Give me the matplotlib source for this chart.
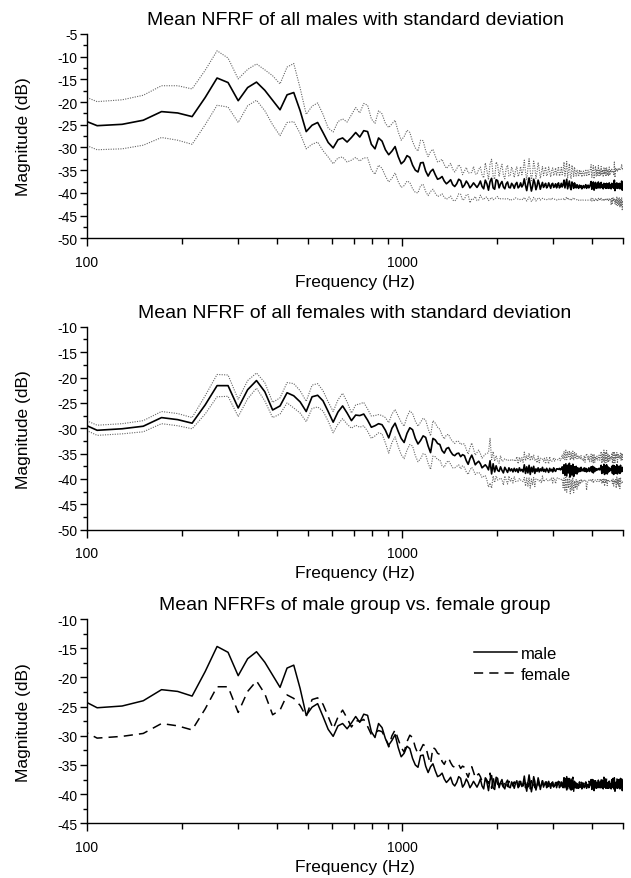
import numpy as np
import matplotlib
matplotlib.use('Agg')
import matplotlib.pyplot as plt
from matplotlib.ticker import MultipleLocator, FixedLocator, FixedFormatter, NullFormatter, LogLocator

plt.rcParams['font.family'] = ['Liberation Sans', 'DejaVu Sans']
plt.rcParams['axes.unicode_minus'] = False

# FFT bins (44.1 kHz, 2048 points), bins 4..233
fft_bins = np.arange(4, 234)
freq = fft_bins * 44100 / 2048

# male group: mean NFRF (dB) and standard deviation (dB)
male_mean = [
    -22.5, -25.2, -24.9, -24.0, -22.1, -22.4, -23.2, -19.0, -14.7, -15.7,
    -19.7, -16.8, -15.6, -17.4, -19.6, -21.7, -18.4, -17.9, -21.9, -26.5,
    -25.1, -24.5, -26.7, -28.9, -30.1, -28.3, -27.9, -28.8, -27.8, -26.7,
    -27.7, -26.3, -26.5, -29.3, -30.3, -27.9, -28.6, -30.5, -31.6, -30.8,
    -29.8, -32.0, -33.6, -33.0, -31.8, -32.2, -33.9, -35.0, -35.4, -33.4,
    -33.3, -35.2, -36.3, -35.3, -34.8, -36.0, -37.0, -36.8, -36.4, -37.4,
    -38.0, -37.6, -37.1, -38.2, -38.6, -38.0, -37.0, -37.3, -38.8, -38.3,
    -37.4, -38.0, -38.9, -38.4, -37.8, -38.3, -38.8, -38.2, -37.4, -38.6,
    -39.1, -37.2, -38.0, -39.4, -37.5, -36.8, -38.9, -39.2, -37.1, -37.3,
    -38.9, -38.0, -37.5, -38.7, -39.1, -38.0, -37.6, -38.8, -38.9, -37.9,
    -38.3, -39.0, -38.1, -37.7, -38.9, -38.6, -37.8, -38.7, -38.2, -36.9,
    -38.4, -39.5, -38.0, -36.7, -38.2, -39.6, -38.6, -37.0, -37.8, -39.3,
    -38.5, -37.2, -38.0, -39.2, -38.4, -37.7, -38.8, -38.3, -37.9, -38.9,
    -38.6, -37.8, -38.4, -39.0, -38.1, -37.9, -38.8, -38.5, -38.0, -38.9,
    -38.3, -37.8, -38.9, -38.6, -37.9, -38.7, -38.2, -37.2, -38.9, -38.0,
    -37.0, -39.1, -38.2, -37.4, -38.8, -39.3, -37.6, -38.1, -39.0, -37.8,
    -38.5, -38.9, -38.2, -38.7, -39.0, -38.3, -38.8, -38.4, -39.1, -38.6,
    -38.4, -38.9, -38.6, -38.2, -39.0, -38.5, -38.3, -38.9, -38.6, -38.2,
    -37.5, -39.2, -38.1, -37.6, -39.4, -38.4, -37.7, -39.0, -38.1, -38.9,
    -37.6, -38.9, -38.0, -38.9, -37.7, -38.8, -38.2, -39.1, -37.9, -38.8,
    -38.0, -39.0, -37.9, -38.9, -38.1, -39.0, -37.8, -38.9, -38.2, -39.1,
    -37.9, -38.8, -38.1, -39.0, -37.2, -39.5, -38.0, -38.9, -37.8, -39.0,
    -38.0, -38.9, -37.9, -39.1, -38.1, -38.8, -37.4, -39.4, -38.2, -38.8,
]
male_std = [
    5.3, 5.3, 5.4, 5.5, 5.7, 6.0, 6.1, 6.0, 6.0, 5.4,
    4.8, 4.0, 4.0, 4.5, 5.4, 5.7, 6.1, 6.4, 5.0, 3.8,
    4.2, 4.3, 4.0, 3.2, 3.5, 4.0, 4.2, 4.4, 5.0, 5.5,
    5.3, 6.0, 5.8, 5.6, 5.6, 6.0, 6.0, 5.8, 6.0, 6.0,
    5.8, 5.5, 5.2, 5.4, 5.6, 5.5, 5.2, 4.9, 4.6, 5.0,
    4.8, 4.5, 4.3, 4.4, 4.4, 4.1, 3.8, 3.8, 3.8, 3.6,
    3.4, 3.5, 3.6, 3.4, 3.2, 3.3, 3.2, 3.0, 2.8, 3.1,
    3.0, 2.4, 3.3, 2.9, 3.6, 2.5, 2.9, 3.4, 3.1, 2.6,
    2.4, 3.8, 2.9, 2.3, 3.9, 4.2, 2.6, 2.2, 3.9, 3.5,
    2.5, 3.3, 3.8, 2.6, 2.2, 3.4, 3.7, 2.5, 2.8, 3.6,
    3.1, 2.4, 3.0, 3.5, 2.5, 2.9, 3.6, 2.7, 3.3, 4.1,
    3.0, 2.3, 3.4, 4.2, 3.1, 2.3, 3.0, 4.0, 3.4, 2.5,
    3.0, 3.9, 3.2, 2.4, 2.9, 3.5, 2.6, 3.1, 3.6, 2.6,
    2.8, 3.5, 3.1, 2.5, 3.0, 3.4, 2.6, 2.9, 3.5, 2.7,
    3.1, 3.6, 2.6, 2.9, 3.5, 2.7, 3.2, 4.0, 2.6, 3.2,
    3.9, 2.4, 3.1, 3.8, 2.7, 2.4, 3.7, 3.1, 2.5, 3.5,
    2.9, 2.6, 3.3, 3.0, 2.6, 3.4, 2.8, 3.2, 2.6, 3.0,
    3.2, 2.7, 3.0, 3.4, 2.6, 3.1, 3.3, 2.7, 3.0, 3.4,
    3.7, 2.6, 3.2, 3.6, 2.5, 3.1, 3.6, 2.7, 3.3, 2.8,
    3.6, 2.7, 3.2, 2.7, 3.5, 2.8, 3.3, 2.6, 3.4, 2.9,
    3.4, 2.6, 3.5, 2.8, 3.2, 2.7, 3.5, 2.8, 3.3, 3.6,
    3.1, 3.5, 3.0, 2.8, 4.0, 2.9, 3.4, 3.7, 3.0, 3.8,
    3.3, 3.9, 3.2, 4.1, 3.4, 4.2, 3.7, 4.5, 3.5, 3.6,
]

# female group: mean NFRF (dB) and standard deviation (dB)
female_mean = [
    -27.7, -30.4, -30.1, -29.6, -27.9, -28.3, -29.0, -25.4, -21.6, -21.6,
    -26.0, -22.4, -20.6, -22.8, -26.4, -25.6, -23.0, -23.6, -24.8, -26.7,
    -23.8, -23.5, -24.6, -26.7, -28.8, -26.8, -25.6, -27.0, -28.5, -27.4,
    -27.5, -27.2, -28.4, -29.8, -29.5, -29.1, -29.3, -30.4, -31.9, -30.0,
    -29.0, -30.6, -32.0, -32.8, -31.0, -29.9, -30.3, -32.0, -33.1, -32.4,
    -31.5, -31.8, -33.5, -34.8, -32.0, -32.3, -33.0, -33.2, -34.4, -34.9,
    -34.0, -33.8, -34.6, -35.2, -35.4, -35.0, -34.9, -35.6, -35.2, -35.4,
    -36.4, -37.1, -36.0, -35.3, -36.2, -37.2, -36.8, -36.5, -37.0, -37.8,
    -37.5, -37.2, -37.6, -38.2, -36.4, -39.0, -37.0, -38.6, -37.4, -38.3,
    -38.5, -37.6, -38.3, -38.8, -37.7, -38.2, -38.7, -37.8, -38.4, -38.0,
    -38.6, -37.9, -38.5, -38.0, -38.7, -37.8, -38.4, -38.1, -38.6, -37.2,
    -38.9, -37.6, -38.8, -37.3, -39.1, -37.7, -38.6, -37.5, -38.9, -38.0,
    -38.5, -37.8, -38.6, -38.0, -38.4, -37.7, -38.5, -38.1, -38.6, -37.9,
    -38.3, -38.7, -37.9, -38.4, -38.1, -38.6, -37.8, -38.3, -38.5, -38.0,
    -38.0, -38.1, -37.9, -38.2, -38.0, -37.6, -38.9, -37.2, -39.3, -37.0,
    -39.4, -37.3, -38.8, -36.9, -39.6, -37.4, -39.2, -37.1, -39.5, -37.6,
    -38.9, -37.5, -39.0, -37.8, -38.6, -37.9, -38.5, -37.7, -38.4, -38.1,
    -38.4, -37.8, -38.5, -37.9, -38.6, -38.1, -38.4, -37.8, -38.5, -38.0,
    -37.6, -38.6, -37.5, -38.8, -37.7, -38.5, -37.9, -38.3, -38.0, -38.2,
    -38.1, -37.9, -38.2, -38.0, -37.3, -38.9, -37.6, -38.7, -37.1, -39.1,
    -37.4, -38.8, -37.2, -39.0, -37.6, -38.6, -37.8, -38.4, -38.0, -38.2,
    -37.5, -38.9, -37.3, -39.1, -37.4, -38.8, -37.6, -38.9, -37.2, -39.0,
    -37.5, -38.7, -37.6, -38.9, -37.3, -38.6, -37.8, -38.5, -37.7, -38.3,
]
female_std = [
    0.9, 1.0, 1.0, 1.1, 1.2, 1.2, 1.1, 1.8, 2.2, 2.1,
    1.7, 1.8, 1.5, 1.8, 1.5, 1.6, 2.0, 2.4, 2.2, 2.0,
    2.3, 2.3, 2.0, 1.9, 2.1, 2.4, 2.5, 2.2, 1.5, 2.0,
    2.3, 2.3, 2.2, 2.2, 2.0, 1.8, 1.8, 2.5, 3.0, 2.8,
    2.7, 3.0, 3.2, 3.2, 3.3, 3.3, 3.2, 3.4, 3.5, 3.6,
    3.5, 3.4, 3.4, 3.3, 3.5, 3.3, 3.2, 3.0, 3.0, 2.8,
    2.7, 2.6, 2.5, 2.6, 2.4, 2.5, 2.3, 2.4, 2.2, 2.3,
    2.2, 2.0, 2.2, 2.4, 2.1, 1.9, 2.0, 2.2, 2.0, 1.9,
    2.0, 2.1, 2.6, 3.4, 4.4, 2.8, 2.4, 2.1, 2.0, 1.9,
    1.6, 2.2, 1.8, 2.4, 1.7, 2.0, 2.3, 1.6, 2.1, 1.9,
    2.2, 1.6, 2.0, 2.4, 1.7, 2.1, 1.8, 2.3, 1.9, 2.5,
    2.5, 2.2, 2.6, 2.4, 2.7, 2.3, 2.5, 2.2, 2.6, 2.0,
    1.7, 2.3, 1.8, 2.1, 2.4, 1.7, 2.0, 2.2, 1.6, 2.1,
    2.0, 1.7, 2.3, 1.9, 1.6, 2.2, 2.0, 1.8, 2.4, 1.9,
    1.8, 1.9, 2.0, 1.8, 2.1, 2.4, 2.8, 2.6, 3.1, 2.7,
    3.2, 2.6, 3.0, 2.5, 3.3, 2.7, 3.1, 2.6, 3.2, 2.8,
    2.9, 2.6, 3.0, 2.5, 2.7, 2.4, 2.5, 2.3, 2.2, 2.1,
    2.0, 2.4, 1.8, 2.3, 3.6, 2.6, 2.1, 2.4, 1.9, 2.2,
    2.5, 1.9, 2.4, 2.0, 2.6, 1.8, 2.3, 2.1, 2.5, 1.9,
    2.2, 2.6, 1.9, 2.4, 2.7, 2.0, 2.5, 2.1, 2.8, 2.3,
    2.7, 2.0, 2.8, 2.3, 2.5, 1.9, 2.6, 2.1, 2.4, 2.2,
    2.6, 2.0, 2.7, 2.3, 2.8, 2.0, 2.5, 2.9, 2.4, 2.1,
    2.5, 2.8, 2.1, 3.0, 2.4, 2.2, 2.9, 2.3, 2.7, 2.4,
]

titles = ['Mean NFRF of all males with standard deviation',
          'Mean NFRF of all females with standard deviation',
          'Mean NFRFs of male group vs. female group']
ylims = [(-50, -5), (-50, -10), (-45, -10)]

male_mean = np.array(male_mean)
male_std = np.array(male_std)
female_mean = np.array(female_mean)
female_std = np.array(female_std)

fig = plt.figure(figsize=(6.31, 8.79), dpi=100)
left, width = 0.1379, 0.8494
boxes = [(0.7278, 0.2324), (0.3962, 0.2309), (0.0622, 0.2324)]
axes = [fig.add_axes([left, b, width, h]) for b, h in boxes]

dot_kw = dict(color='0.4', linestyle=(0, (1, 1.2)), linewidth=0.8)

ax = axes[0]
ax.plot(freq, male_mean + male_std, **dot_kw)
ax.plot(freq, male_mean - male_std, **dot_kw)
ax.plot(freq, male_mean, color='k', linewidth=1.2)

ax = axes[1]
ax.plot(freq, female_mean + female_std, **dot_kw)
ax.plot(freq, female_mean - female_std, **dot_kw)
ax.plot(freq, female_mean, color='k', linewidth=1.2)

ax = axes[2]
ax.plot(freq, male_mean, color='k', linewidth=1.1, label='male')
ax.plot(freq, female_mean, color='k', linewidth=1.1, linestyle=(0, (6, 4)), label='female')
ax.legend(loc='upper left', bbox_to_anchor=(0.722, 0.87), frameon=False, fontsize=12,
          handlelength=2.6, handletextpad=0.2, labelspacing=0.4, borderpad=0, borderaxespad=0)

for ax, title, yl in zip(axes, titles, ylims):
    ax.set_xscale('log')
    ax.set_xlim(100, 5000)
    ax.set_ylim(*yl)
    ax.set_title(title, fontsize=14, pad=7)
    ax.set_xlabel('Frequency (Hz)', fontsize=12.5)
    ax.set_ylabel('Magnitude (dB)', fontsize=12.5)
    ax.xaxis.set_label_coords(0.5, -0.175)
    ax.yaxis.set_label_coords(-0.105, 0.5)
    for s in ['top', 'right']:
        ax.spines[s].set_visible(False)
    for s in ['left', 'bottom']:
        ax.spines[s].set_linewidth(1.0)
    ax.xaxis.set_major_locator(FixedLocator([100, 1000]))
    ax.xaxis.set_major_formatter(FixedFormatter(['100', '1000']))
    ax.xaxis.set_minor_locator(LogLocator(base=10, subs=np.arange(2, 10)))
    ax.xaxis.set_minor_formatter(NullFormatter())
    ax.yaxis.set_major_locator(MultipleLocator(5))
    ax.yaxis.set_minor_locator(MultipleLocator(2.5))
    ax.tick_params(axis='both', which='major', labelsize=10, direction='out', width=1.0)
    ax.tick_params(axis='x', which='major', length=6, pad=6)
    ax.tick_params(axis='x', which='minor', length=4.5, width=1.0)
    ax.tick_params(axis='y', which='major', length=5, pad=2)
    ax.tick_params(axis='y', which='minor', length=3, width=1.0)

fig.savefig('out.png', dpi=100)
